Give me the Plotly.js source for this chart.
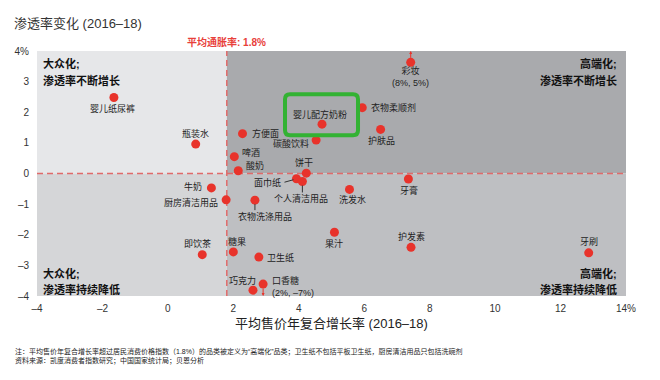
<!DOCTYPE html>
<html><head><meta charset="utf-8">
<script src="https://cdn.plot.ly/plotly-3.0.1.min.js"></script>
<style>html,body{margin:0;padding:0;background:#fff}#chart{width:660px;height:380px}</style>
</head><body><div id="chart"></div>
<script>
// ---- data ----
const categories = ['婴儿纸尿裤','瓶装水','方便面','啤酒','酸奶','婴儿配方奶粉','碳酸饮料','衣物柔顺剂','护肤品','彩妆','牙膏','饼干','面巾纸','个人清洁用品','洗发水','牛奶','厨房清洁用品','衣物洗涤用品','即饮茶','糖果','卫生纸','巧克力','口香糖','果汁','护发素','牙刷'];
const priceGrowth = [-1.65,0.85,2.28,2.03,2.15,4.71,4.53,5.94,6.50,7.42,7.35,4.23,3.93,4.11,5.55,1.33,1.78,2.66,1.05,2.00,2.78,2.60,2.91,5.09,7.43,12.86];
const penetrationChange = [2.48,0.96,1.30,0.55,0.09,1.61,1.09,2.15,1.44,3.63,-0.18,0.01,-0.17,-0.26,-0.52,-0.47,-0.86,-0.87,-2.65,-2.56,-2.73,-3.81,-3.61,-1.92,-2.41,-2.59];
const offChartNotes = {'彩妆':'(8%, 5%)','口香糖':'(2%, –7%)'};
const offChartDir = {'彩妆':'up','口香糖':'down'};
const highlighted = '婴儿配方奶粉';
const inflation = 1.8;
const xTickVals = [-4,-2,0,2,4,6,8,10,12,14];
const xTickText = ['–4','–2','0','2','4','6','8','10','12','14%'];
const yTickVals = [-4,-3,-2,-1,0,1,2,3,4];
const yTickText = ['–4','–3','–2','–1','0','1','2','3','4%'];
const xRange = [-4,14], yRange = [-4,4];
const quadrantText = {tl:['大众化;','渗透率不断增长'], tr:['高端化;','渗透率不断增长'], bl:['大众化;','渗透率持续降低'], br:['高端化;','渗透率持续降低']};
const titleText = '渗透率变化 (2016–18)';
const xTitleText = '平均售价年复合增长率 (2016–18)';
const inflationLabel = '平均通胀率: 1.8%';
const notes = ['注：平均售价年复合增长率超过居民消费价格指数（1.8%）的品类被定义为“高端化”品类；卫生纸不包括平板卫生纸，厨房清洁用品只包括洗碗剂','资料来源：凯度消费者指数研究；中国国家统计局；贝恩分析'];

// ---- label placement (pixels: dx, dy up-positive, anchor) ----
const labelPos = {
 '婴儿纸尿裤':[-1,-11,'center'],'瓶装水':[0,11,'center'],'方便面':[7,0,'left'],'啤酒':[6,4,'left'],'酸奶':[6,5,'left'],
 '婴儿配方奶粉':[-2,10,'center'],'碳酸饮料':[-5,-3,'right'],'衣物柔顺剂':[7,0,'left'],'护肤品':[1,-11,'center'],
 '彩妆':[0,-14,'center'],'牙膏':[1,-11,'center'],'饼干':[-2,11,'center'],'面巾纸':[-13,-4,'right'],
 '个人清洁用品':[-1,-17,'center'],'洗发水':[3,-10,'center'],'牛奶':[-7,1,'right'],'厨房清洁用品':[-6,-3,'right'],
 '衣物洗涤用品':[10,-16,'center'],'即饮茶':[-5,11,'center'],'糖果':[4,10,'center'],'卫生纸':[6,0,'left'],
 '巧克力':[-10,10,'center'],'口香糖':[7,-2,'left'],'果汁':[0,-11,'center'],'护发素':[0,11,'center'],'牙刷':[0,11,'center']
};
const leaders = {'面巾纸':[-3,-1,-12,-3.5],'个人清洁用品':[0,-4,0,-11],'衣物洗涤用品':[0,-4,0,-10]};

// ---- layout geometry ----
const W=660,H=380,ML=37,MR=34,MT=51,MB=84;
const pw=W-ML-MR, ph=H-MT-MB;
const px2x = p => (p-ML)/pw;
const px2y = p => 1-(p-MT)/ph;
const FONT = 'Liberation Sans, Arial, Noto Sans CJK SC, sans-serif';
const RED = '#e8332b';

const shapes = [];
const bg = {tl:'#e6e7e9', bl:'#d5d6d8', tr:'#a9aaad', br:'#bebfc2'};
shapes.push({type:'rect',xref:'x',yref:'y',x0:xRange[0],x1:inflation,y0:0,y1:yRange[1],fillcolor:bg.tl,line:{width:0},layer:'below'});
shapes.push({type:'rect',xref:'x',yref:'y',x0:xRange[0],x1:inflation,y0:yRange[0],y1:0,fillcolor:bg.bl,line:{width:0},layer:'below'});
shapes.push({type:'rect',xref:'x',yref:'y',x0:inflation,x1:xRange[1],y0:0,y1:yRange[1],fillcolor:bg.tr,line:{width:0},layer:'below'});
shapes.push({type:'rect',xref:'x',yref:'y',x0:inflation,x1:xRange[1],y0:yRange[0],y1:0,fillcolor:bg.br,line:{width:0},layer:'below'});
shapes.push({type:'line',xref:'x',yref:'y',x0:xRange[0],x1:xRange[1],y0:0,y1:0,line:{color:'#e06a6a',width:1.5,dash:'6px,4px'},layer:'below'});
shapes.push({type:'line',xref:'x',yref:'y',x0:inflation,x1:inflation,y0:yRange[0],y1:yRange[1],line:{color:'#e06a6a',width:1.5,dash:'6px,4px'},layer:'below'});

// highlight box around highlighted point (pixel offsets)
const hi = categories.indexOf(highlighted);
(function(){
  const x0=-37,x1=36,y0=-11,y1=30,r=5;
  const p = `M ${x0+r},${y1} L ${x1-r},${y1} Q ${x1},${y1} ${x1},${y1-r} L ${x1},${y0+r} Q ${x1},${y0} ${x1-r},${y0} L ${x0+r},${y0} Q ${x0},${y0} ${x0},${y0+r} L ${x0},${y1-r} Q ${x0},${y1} ${x0+r},${y1} Z`;
  shapes.push({type:'path',xref:'x',yref:'y',xsizemode:'pixel',ysizemode:'pixel',xanchor:priceGrowth[hi],yanchor:penetrationChange[hi],path:p,line:{color:'#33b233',width:4}});
})();

// leader lines
Object.keys(leaders).forEach(k=>{
  const i=categories.indexOf(k), l=leaders[k];
  shapes.push({type:'line',xref:'x',yref:'y',xsizemode:'pixel',ysizemode:'pixel',xanchor:priceGrowth[i],yanchor:penetrationChange[i],x0:l[0],y0:l[1],x1:l[2],y1:l[3],line:{color:'#333',width:1}});
});

const annotations = [];
categories.forEach((c,i)=>{
  const lp = labelPos[c];
  const txt = offChartNotes[c] ? c+'<br>'+offChartNotes[c] : c;
  annotations.push({x:priceGrowth[i],y:penetrationChange[i],xref:'x',yref:'y',text:txt,showarrow:false,
    xanchor:lp[2],yanchor:'middle',xshift:lp[0],yshift:lp[1],font:{family:FONT,size:9,color:'#222'},align:lp[2]==='left'?'left':'center'});
});
// off-chart arrows
Object.keys(offChartDir).forEach(k=>{
  const i=categories.indexOf(k);
  const up = offChartDir[k]==='up';
  annotations.push({x:priceGrowth[i],y:up?yRange[1]:yRange[0],xref:'x',yref:'y',axref:'x',ayref:'y',ax:priceGrowth[i],ay:penetrationChange[i],
    text:'',showarrow:true,arrowhead:2,arrowsize:0.6,arrowwidth:1,arrowcolor:RED,standoff:0,startstandoff:3});
});
// quadrant labels
const qFont = {family:FONT,size:11,color:'#111',weight:'bold'};
const q = (lines, xd, xa, ytop)=>lines.forEach((t,j)=>annotations.push({xref:'paper',yref:'paper',x:xd,y:px2y(ytop+j*16),text:'<b>'+t+'</b>',showarrow:false,xanchor:xa,yanchor:'middle',font:qFont}));
q(quadrantText.tl, px2x(41), 'left', 64);
q(quadrantText.tr, px2x(619), 'right', 64);
q(quadrantText.bl, px2x(41), 'left', 273.5);
q(quadrantText.br, px2x(619), 'right', 273.5);
// inflation label
annotations.push({x:inflation,xref:'x',yref:'paper',y:px2y(42),text:'<b>'+inflationLabel+'</b>',showarrow:false,xanchor:'center',yanchor:'middle',font:{family:FONT,size:10,color:'#e8403a'}});
// x title
annotations.push({xref:'paper',yref:'paper',x:0.5,y:px2y(323),text:xTitleText,showarrow:false,xanchor:'center',yanchor:'middle',font:{family:FONT,size:13,color:'#222'}});
// notes
notes.forEach((t,j)=>annotations.push({xref:'paper',yref:'paper',x:px2x(13),y:px2y(351.5+j*9),text:t,showarrow:false,xanchor:'left',yanchor:'middle',font:{family:FONT,size:7,color:'#222'}}));

const trace = {x:priceGrowth,y:penetrationChange,text:categories,type:'scatter',mode:'markers',
  marker:{color:RED,size:9,line:{width:0}},hoverinfo:'text',cliponaxis:false};

const layout = {
  width:W,height:H,margin:{l:ML,r:MR,t:MT,b:MB,pad:0},
  paper_bgcolor:'#fff',plot_bgcolor:'rgba(0,0,0,0)',showlegend:false,
  font:{family:FONT,color:'#333'},
  title:{text:titleText,x:14/W,xref:'container',xanchor:'left',y:1-23/H,yref:'container',yanchor:'middle',font:{family:FONT,size:13,color:'#333'}},
  xaxis:{range:xRange,tickvals:xTickVals,ticktext:xTickText,showgrid:false,zeroline:false,showline:false,ticks:'',ticklabelstandoff:5,tickfont:{size:10,color:'#333'},fixedrange:true},
  yaxis:{range:yRange,tickvals:yTickVals,ticktext:yTickText,showgrid:false,zeroline:false,showline:false,ticks:'',ticklabelstandoff:7,tickfont:{size:10,color:'#333'},fixedrange:true},
  shapes:shapes,annotations:annotations
};
Plotly.newPlot('chart',[trace],layout,{displayModeBar:false,staticPlot:true});
</script></body></html>
